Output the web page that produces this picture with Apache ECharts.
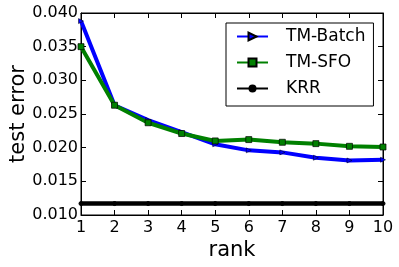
<!DOCTYPE html>
<html>
<head>
<meta charset="utf-8">
<script src="https://cdn.jsdelivr.net/npm/echarts@6/dist/echarts.min.js"></script>
<style>
html,body{margin:0;padding:0;background:#fff;}
#chart{width:399px;height:267px;}
</style>
</head>
<body>
<div id="chart"></div>
<script>
var ranks = [1, 2, 3, 4, 5, 6, 7, 8, 9, 10];
var tmBatch = [0.0388, 0.0263, 0.0241, 0.0223, 0.0205, 0.0196, 0.0193, 0.0185, 0.0181, 0.0182];
var tmSFO = [0.0350, 0.0263, 0.0237, 0.0221, 0.0210, 0.0212, 0.0208, 0.0206, 0.0202, 0.0201];
var krr = [0.0117, 0.0117, 0.0117, 0.0117, 0.0117, 0.0117, 0.0117, 0.0117, 0.0117, 0.0117];
var seriesNames = ['TM-Batch', 'TM-SFO', 'KRR'];
var yMin = 0.010, yMax = 0.040, yStep = 0.005;

function pairs(vals) { return ranks.map(function (r, i) { return [r, vals[i]]; }); }

var FONT = 'DejaVu Sans';
var chart = echarts.init(document.getElementById('chart'), null, {renderer: 'canvas'});
var tickIn = {show: true, inside: true, length: 5, lineStyle: {color: '#000', width: 1}};
chart.setOption({
  animation: false,
  backgroundColor: '#fff',
  textStyle: {fontFamily: FONT},
  grid: {left: 81, right: 16, top: 13, bottom: 52, containLabel: false, outerBoundsMode: 'none',
    show: true, borderColor: '#000', borderWidth: 1, backgroundColor: 'transparent'},
  legend: {
    data: seriesNames,
    orient: 'vertical',
    left: 226, top: 23,
    padding: [5, 8, 9, 10],
    itemWidth: 31, itemHeight: 10, itemGap: 9,
    borderColor: '#000', borderWidth: 1, backgroundColor: '#fff',
    textStyle: {fontFamily: FONT, fontSize: 17, color: '#000', padding: [0, 0, 0, 13]}
  },
  xAxis: [{
    type: 'value', min: 1, max: 10, interval: 1,
    name: 'rank', nameLocation: 'middle', nameGap: 25, nameMoveOverlap: false,
    nameTextStyle: {fontFamily: FONT, fontSize: 21, color: '#000'},
    axisLine: {show: true, lineStyle: {color: '#000', width: 1}},
    axisTick: tickIn,
    axisLabel: {fontFamily: FONT, fontSize: 16, color: '#000', margin: 5},
    splitLine: {show: false}
  }, {
    type: 'value', position: 'top', min: 1, max: 10, interval: 1,
    axisLine: {show: true, lineStyle: {color: '#000', width: 1}},
    axisTick: tickIn, axisLabel: {show: false}, splitLine: {show: false}
  }],
  yAxis: [{
    type: 'value', min: yMin, max: yMax, interval: yStep,
    name: 'test error', nameLocation: 'middle', nameGap: 52, nameMoveOverlap: false,
    nameTextStyle: {fontFamily: FONT, fontSize: 21, color: '#000'},
    axisLine: {show: true, lineStyle: {color: '#000', width: 1}},
    axisTick: tickIn,
    axisLabel: {fontFamily: FONT, fontSize: 16, color: '#000', margin: 3,
      formatter: function (v) { return v.toFixed(3); }},
    splitLine: {show: false}
  }, {
    type: 'value', position: 'right', min: yMin, max: yMax, interval: yStep,
    axisLine: {show: true, lineStyle: {color: '#000', width: 1}},
    axisTick: tickIn, axisLabel: {show: false}, splitLine: {show: false}
  }],
  series: [{
    name: seriesNames[0], type: 'line', data: pairs(tmBatch),
    lineStyle: {color: '#0000ff', width: 4},
    itemStyle: {color: '#0000ff', borderColor: '#000', borderWidth: 0.5},
    symbol: 'triangle', symbolRotate: -90, symbolSize: 5, showAllSymbol: true, z: 2
  }, {
    name: seriesNames[1], type: 'line', data: pairs(tmSFO),
    lineStyle: {color: '#008000', width: 4},
    itemStyle: {color: '#008000', borderColor: '#000', borderWidth: 0.7},
    symbol: 'rect', symbolSize: 6, showAllSymbol: true, z: 3
  }, {
    name: seriesNames[2], type: 'line', data: pairs(krr),
    lineStyle: {color: '#000', width: 4.5},
    itemStyle: {color: '#000', borderColor: '#000'},
    symbol: 'circle', symbolSize: 4, showAllSymbol: true, z: 4
  }]
});
</script>
</body>
</html>
